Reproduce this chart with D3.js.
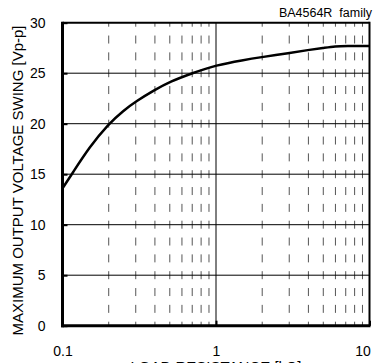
<!DOCTYPE html>
<html><head><meta charset="utf-8">
<script src="https://cdn.jsdelivr.net/npm/d3@7"></script>
<style>body{margin:0;background:#fff}svg{display:block}text{font-family:"Liberation Sans",Arial,sans-serif;fill:#000}</style>
</head><body>
<script>
const loadRes = [0.1, 0.115, 0.15, 0.2, 0.25, 0.3, 0.4, 0.5, 0.7, 1, 1.5, 2, 3, 4, 5, 6, 7, 10];
const swing   = [13.6, 15.0, 17.7, 20.0, 21.3, 22.2, 23.35, 24.15, 25.0, 25.8, 26.3, 26.6, 27.0, 27.3, 27.5, 27.68, 27.7, 27.7];
const yTicks = [0, 5, 10, 15, 20, 25, 30];
const xTicks = [0.1, 1, 10];
const xTickLabels = ["0.1", "1", "10"];
const minorX = [0.2,0.3,0.4,0.5,0.6,0.7,0.8,0.9,2,3,4,5,6,7,8,9];
const title = "BA4564R  family";
const xLabel = "LOAD RESISTANCE [k\u03A9]";
const yLabel = "MAXIMUM OUTPUT VOLTAGE SWING [Vp-p]";

const W = 379, H = 363;
const L = 62.5, R = 369.5, T = 22.7, B = 325.7;
const svg = d3.select("body").append("svg").attr("width", W).attr("height", H);
const x = d3.scaleLog().domain([0.1, 10]).range([L, R]);
const y = d3.scaleLinear().domain([0, 30]).range([B, T]);
const band = y(0) - y(5);

// vertical dashed minor grid
svg.append("g").selectAll("line").data(minorX).join("line")
  .attr("x1", d => x(d)).attr("x2", d => x(d)).attr("y1", B).attr("y2", T)
  .attr("stroke", "#555").attr("stroke-width", 1)
  .attr("stroke-dasharray", `8,${band / 3 - 8}`)
  .attr("stroke-dashoffset", 4);
// x=1 solid
svg.append("line").attr("x1", x(1)).attr("x2", x(1)).attr("y1", B).attr("y2", T)
  .attr("stroke", "#000").attr("stroke-width", 1);
// horizontal grid
svg.append("g").selectAll("line").data(yTicks.filter(d => d > 0 && d < 30)).join("line")
  .attr("x1", L).attr("x2", R).attr("y1", d => y(d)).attr("y2", d => y(d))
  .attr("stroke", "#000").attr("stroke-width", 1);

// y axis ticks + labels
const yAxis = d3.axisLeft(y).tickValues(yTicks).tickSize(-5).tickPadding(17).tickFormat(d3.format("d"));
const ga = svg.append("g").attr("transform", `translate(${L},0)`).call(yAxis);
ga.select(".domain").remove();
ga.selectAll(".tick line").attr("stroke", "#000").attr("stroke-width", 2);
ga.selectAll("text").attr("font-size", 14).style("font-family", "Liberation Sans, Arial, sans-serif");

const xAxis = d3.axisBottom(x).tickValues(xTicks).tickSize(-5).tickPadding(20)
  .tickFormat((d, i) => xTickLabels[i]);
const gx = svg.append("g").attr("transform", `translate(0,${B})`).call(xAxis);
gx.select(".domain").remove();
gx.selectAll(".tick line").attr("stroke", "#000").attr("stroke-width", 2);
gx.selectAll("text").attr("font-size", 14).style("font-family", "Liberation Sans, Arial, sans-serif")
  .attr("dx", (d, i) => i === xTicks.length - 1 ? -7 : 0);

// frame
svg.append("line").attr("x1", L).attr("x2", R).attr("y1", T).attr("y2", T).attr("stroke", "#000").attr("stroke-width", 2);
svg.append("line").attr("x1", R).attr("x2", R).attr("y1", T - 1).attr("y2", B).attr("stroke", "#000").attr("stroke-width", 2);
svg.append("line").attr("x1", L).attr("x2", L).attr("y1", T - 1).attr("y2", B + 1.5).attr("stroke", "#000").attr("stroke-width", 3);
svg.append("line").attr("x1", L - 1.5).attr("x2", R + 1).attr("y1", B).attr("y2", B).attr("stroke", "#000").attr("stroke-width", 3);

// curve
const pts = loadRes.map((d, i) => [d, swing[i]]);
svg.append("path").datum(pts)
  .attr("d", d3.line().x(d => x(d[0])).y(d => y(d[1])).curve(d3.curveBasis))
  .attr("fill", "none").attr("stroke", "#000").attr("stroke-width", 2.5);

// texts
svg.append("text").attr("x", 372).attr("y", 16.5).attr("text-anchor", "end")
  .attr("font-size", 12.5).style("white-space", "pre").text(title);
svg.append("text").attr("x", (L + R) / 2).attr("y", 372).attr("text-anchor", "middle")
  .attr("font-size", 15).text(xLabel);
svg.append("text").attr("transform", `translate(23,${(24 + 337) / 2}) rotate(-90)`)
  .attr("text-anchor", "middle").attr("font-size", 15).text(yLabel);
</script>
</body></html>
